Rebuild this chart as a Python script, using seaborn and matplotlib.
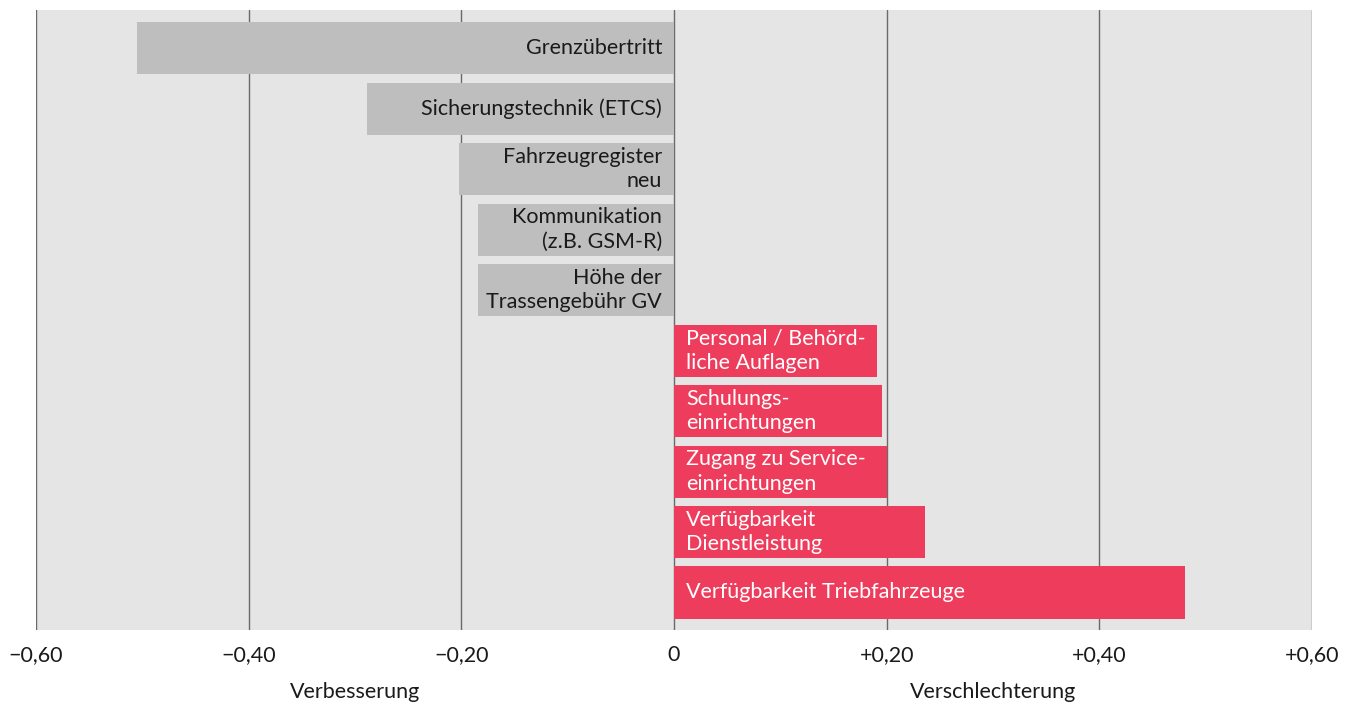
import matplotlib
matplotlib.use('Agg')
from matplotlib import pyplot as plt
import pandas as pd
import seaborn as sns

# Kategorien (von oben nach unten) und Werte
labels = [
    'Grenzübertritt',
    'Sicherungstechnik (ETCS)',
    'Fahrzeugregister\nneu',
    'Kommunikation\n(z.B. GSM-R)',
    'Höhe der\nTrassengebühr GV',
    'Personal / Behörd-\nliche Auflagen',
    'Schulungs-\neinrichtungen',
    'Zugang zu Service-\neinrichtungen',
    'Verfügbarkeit\nDienstleistung',
    'Verfügbarkeit Triebfahrzeuge',
]
values = [-0.505, -0.289, -0.202, -0.184, -0.184, 0.191, 0.196, 0.200, 0.236, 0.481]
ticks = [-0.6, -0.4, -0.2, 0, 0.2, 0.4, 0.6]
tick_labels = ['\u22120,60', '\u22120,40', '\u22120,20', '0', '+0,20', '+0,40', '+0,60']

df = pd.DataFrame({'label': labels, 'value': values})
df['side'] = ['neg' if v < 0 else 'pos' for v in values]

sns.set_theme(style='white')
plt.rcParams['font.family'] = ['Lato', 'DejaVu Sans']
FS = 15.5

fig = plt.figure(figsize=(13.53, 7.06), dpi=100)
ax = fig.add_axes([36 / 1353, 76 / 706, 1276 / 1353, 620 / 706])
ax.set_facecolor('#e5e5e5')

for t in ticks:
    ax.axvline(t, color='#6a6a6a', lw=1.0, zorder=0.5)

sns.barplot(data=df, x='value', y='label', hue='side', dodge=False,
            palette={'neg': '#bebebe', 'pos': '#ee3d5c'}, width=0.86,
            orient='h', legend=False, saturation=1, linewidth=0,
            ax=ax, zorder=2)

for i, (lab, v) in enumerate(zip(labels, values)):
    if v < 0:
        ax.annotate(lab, xy=(0, i), xytext=(-8.6, 0), textcoords='offset points',
                    ha='right', va='center', multialignment='right',
                    fontsize=FS, color='#1a1a1a', linespacing=1.3, zorder=3)
    else:
        ax.annotate(lab, xy=(0, i), xytext=(8.6, 0), textcoords='offset points',
                    ha='left', va='center', multialignment='left',
                    fontsize=FS, color='white', linespacing=1.3, zorder=3)

ax.set_xlim(-0.6, 0.6)
ax.set_ylim(9.62, -0.63)
ax.set_xticks(ticks)
ax.set_xticklabels(tick_labels, fontsize=FS, color='#1a1a1a')
ax.set_yticks([])
ax.set_xlabel('')
ax.set_ylabel('')
ax.tick_params(axis='x', length=0, pad=11)
for s in ax.spines.values():
    s.set_visible(False)

ax.text(-0.3, -0.1, 'Verbesserung', transform=ax.get_xaxis_transform(),
        ha='center', va='center', fontsize=FS, color='#1a1a1a')
ax.text(0.3, -0.1, 'Verschlechterung', transform=ax.get_xaxis_transform(),
        ha='center', va='center', fontsize=FS, color='#1a1a1a')

fig.savefig('out.png', dpi=100)
